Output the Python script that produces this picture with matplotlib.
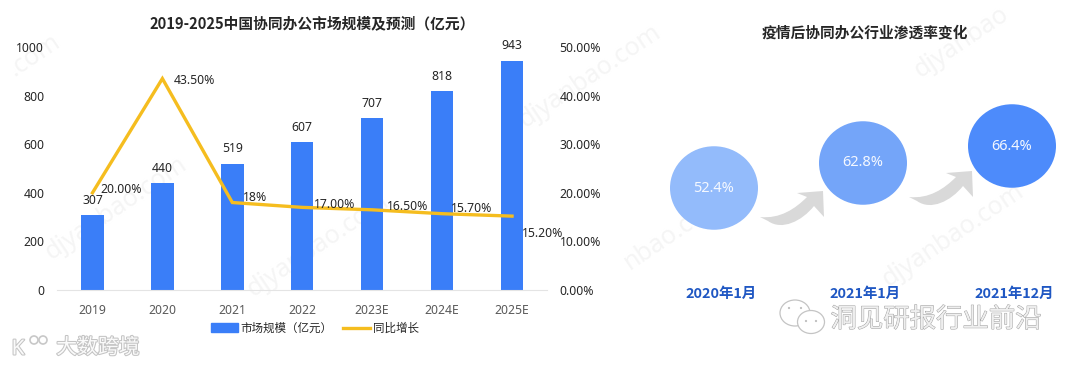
import matplotlib
matplotlib.use("Agg")
import matplotlib.pyplot as plt
import matplotlib.patheffects as pe
from matplotlib.patches import Ellipse, PathPatch, Rectangle
from matplotlib.path import Path
from matplotlib.lines import Line2D

plt.rcParams['font.family'] = ['Noto Sans', 'Noto Sans CJK SC', 'DejaVu Sans']
BOLD_FAMILY = ['Noto Sans CJK SC', 'DejaVu Sans']

# ---- data ----
years = ['2019', '2020', '2021', '2022', '2023E', '2024E', '2025E']
market_size = [307, 440, 519, 607, 707, 818, 943]
growth = [20.0, 43.5, 18.0, 17.0, 16.5, 15.7, 15.2]
growth_labels = ['20.00%', '43.50%', '18%', '17.00%', '16.50%', '15.70%', '15.20%']
left_ticks = [0, 200, 400, 600, 800, 1000]
right_ticks = [0, 10, 20, 30, 40, 50]
right_tick_labels = ['0.00%', '10.00%', '20.00%', '30.00%', '40.00%', '50.00%']
periods = ['2020年1月', '2021年1月', '2021年12月']
penetration = [52.4, 62.8, 66.4]

title_left = '2019-2025中国协同办公市场规模及预测（亿元）'
title_right = '疫情后协同办公行业渗透率变化'
legend_bar = '市场规模（亿元）'
legend_line = '同比增长'

# ---- style ----
W, H = 1080, 368
BLUE = '#3A7EF8'
YELLOW = '#F5BD1F'
DARK = '#262626'
GREY = '#595959'
growth_offsets = [(29, -3), (32, 2), (22.5, -5), (32, -3), (35, -3), (30, -5), (31, 17)]
circle_centres = [(714, 188), (863, 163), (1012, 146)]
circle_colours = ['#93BBFB', '#74A5F9', '#4D8BFB']
period_x = [721, 865, 1014]

fig = plt.figure(figsize=(W / 100, H / 100), dpi=100, facecolor='white')

# overlay in pixel coordinates (background: watermarks)
bg = fig.add_axes([0, 0, 1, 1], zorder=0)
bg.set_xlim(0, W)
bg.set_ylim(H, 0)
bg.axis('off')
for x, y, t in [(34, 56, '.com'), (116, 208, 'djyanbao.com'), (318, 245, 'djyanbao.com'),
                (590, 76, 'djyanbao.com'), (675, 232, 'nbao.com'),
                (953, 235, 'djyanbao.com'), (962, 42, 'djyanbao')]:
    bg.text(x, y, t, fontsize=18, color='#F5F5F5', rotation=34,
            ha='center', va='center', rotation_mode='anchor')

# left chart
ax = fig.add_axes([57.5 / W, (H - 290) / H, 489.5 / W, 243 / H], zorder=1)
ax.patch.set_alpha(0)
xs = list(range(len(years)))
bars = ax.bar(xs, market_size, width=0.32, color=BLUE, label=legend_bar, zorder=2)
ax.set_xlim(-0.5, 6.5)
ax.set_ylim(0, 1000)
ax.set_xticks(xs, years)
ax.set_yticks(left_ticks)
for s in ('top', 'right', 'left'):
    ax.spines[s].set_visible(False)
ax.spines['bottom'].set_color('#E4E4E4')
ax.tick_params(axis='x', length=0, labelsize=8.8, labelcolor=GREY, pad=10)
ax.tick_params(axis='y', length=0, labelsize=8.8, labelcolor=DARK, pad=9.5)
for x, v in zip(xs, market_size):
    ax.annotate(str(v), (x, v), xytext=(0, 15 * 0.72), textcoords='offset points',
                ha='center', va='center', fontsize=8.8, color=DARK, zorder=5)

ax2 = ax.twinx()
ax2.patch.set_alpha(0)
line, = ax2.plot(xs, growth, color=YELLOW, lw=2.4, label=legend_line, zorder=3,
                 solid_joinstyle='miter')
ax2.set_ylim(0, 50)
ax2.set_yticks(right_ticks, right_tick_labels)
for s in ax2.spines.values():
    s.set_visible(False)
ax2.tick_params(axis='y', length=0, labelsize=8.8, labelcolor=DARK, pad=9)
for x, v, t, (dx, dy) in zip(xs, growth, growth_labels, growth_offsets):
    ax2.annotate(t, (x, v), xytext=(dx * 0.72, -dy * 0.72), textcoords='offset points',
                 ha='center', va='center', fontsize=8.8, color=DARK, zorder=5)

# overlay in pixel coordinates (foreground)
ov = fig.add_axes([0, 0, 1, 1], zorder=3)
ov.set_xlim(0, W)
ov.set_ylim(H, 0)
ov.axis('off')
ov.patch.set_alpha(0)

ov.text(312, 23, title_left, fontsize=10.6, fontweight='bold', color=DARK,
        ha='center', va='center', family=BOLD_FAMILY)
ov.text(865, 33, title_right, fontsize=10.6, fontweight='bold', color=DARK,
        ha='center', va='center', family=BOLD_FAMILY)

# legend
fig.legend(handles=[Rectangle((0, 0), 1, 1, color=BLUE, label=legend_bar),
                    Line2D([], [], color=YELLOW, lw=2.4, label=legend_line)],
           loc='center', bbox_to_anchor=(315 / W, 1 - 329 / H), ncol=2, frameon=False,
           fontsize=8.3, labelcolor=DARK, handlelength=2.3, handleheight=0.75,
           handletextpad=0.25, columnspacing=0.9, borderpad=0)

# arrows between circles
def arrow(x0, y0):
    pts = [(x0, y0), (x0 + 20, y0 + 2), (x0 + 35, y0 - 8), (x0 + 47, y0 - 20),
           (x0 + 37, y0 - 24), (x0 + 63, y0 - 26), (x0 + 64, y0 + 0), (x0 + 54, y0 - 11),
           (x0 + 42, y0 + 4), (x0 + 22, y0 + 14), (x0 + 8, y0 + 4), (x0, y0)]
    codes = [Path.MOVETO, Path.CURVE4, Path.CURVE4, Path.CURVE4,
             Path.LINETO, Path.LINETO, Path.LINETO, Path.LINETO,
             Path.CURVE4, Path.CURVE4, Path.CURVE4, Path.CLOSEPOLY]
    ov.add_patch(PathPatch(Path(pts, codes), fc='#D9D9D9', ec='none'))

arrow(760, 217)
arrow(909, 197)

# circles
for (cx, cy), c, v in zip(circle_centres, circle_colours, penetration):
    ov.add_patch(Ellipse((cx, cy), 88, 83.5, fc=c, ec='none'))
    ov.text(cx, cy, f'{v}%', fontsize=10.5, color='#F4F8FF', ha='center', va='center')

for x, t in zip(period_x, periods):
    ov.text(x, 294, t, fontsize=10.4, fontweight='bold', color='#1F57C3',
            ha='center', va='center', family=BOLD_FAMILY)

# source marks
ghost = [pe.withStroke(linewidth=1.5, foreground='#C4C4C4')]
ov.text(936, 320, '洞见研报行业前沿', fontsize=19, color='#EFEFEF',
        ha='center', va='center', path_effects=[pe.withStroke(linewidth=0.7, foreground='#A0A0A0')])
ov.text(98, 348, '大数跨境', fontsize=15, color='#FAFAFA', ha='center', va='center',
        path_effects=ghost)

# WeChat-like logo
for (cx, cy, w, h) in [(795, 313, 30, 26), (811, 322, 27, 23)]:
    ov.add_patch(Ellipse((cx, cy), w, h, fc='white', ec='#C4C4C4', lw=0.9))
for (cx, cy) in [(789, 308), (801, 308), (806, 321), (816, 321)]:
    ov.add_patch(Ellipse((cx, cy), 2.2, 2.2, fc='#BDBDBD', ec='none'))

# K-circle logo
ov.add_patch(Ellipse((34, 340), 8, 8, fc='white', ec='#C8C8C8', lw=1.2))
ov.add_patch(Ellipse((43, 340), 8, 8, fc='white', ec='#C8C8C8', lw=1.2))
ov.text(18, 349, 'K', fontsize=15, color='#FAFAFA', ha='center', va='center',
        path_effects=ghost)

fig.savefig('out.png', dpi=100, facecolor='white')
